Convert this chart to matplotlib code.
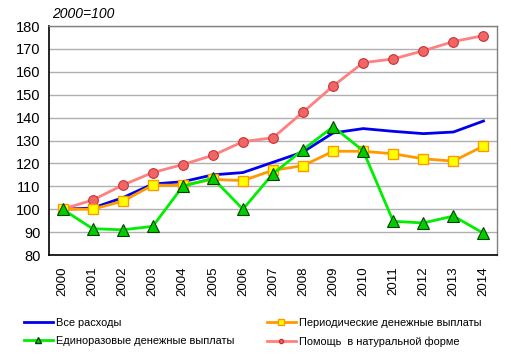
import matplotlib
matplotlib.use("Agg")
import matplotlib.pyplot as plt
from matplotlib.lines import Line2D

plt.rcParams['font.family'] = ['Liberation Sans', 'DejaVu Sans']

years = [str(y) for y in range(2000, 2015)]
all_exp = [100, 100.5, 105, 111, 112, 115, 116, 120.5, 125, 133.3, 135.2, 134, 133, 133.7, 138.5]
periodic = [100, 100, 103.5, 110.5, 110.5, 113, 112.5, 117, 119, 125.3, 125.3, 124.2, 122, 121, 127.6]
lump = [100, 91.5, 91, 92.5, 110, 113.5, 100, 115.5, 126, 136, 125.5, 94.7, 94, 97, 89.5]
inkind = [100, 104, 110.5, 116, 119.5, 123.5, 129.5, 131.2, 142.4, 153.8, 164, 165.6, 169.2, 173.2, 175.8]
labels = ["Все расходы", "Периодические денежные выплаты",
          "Единоразовые денежные выплаты", "Помощь  в натуральной форме"]

fig = plt.figure(figsize=(5.11, 3.56), dpi=100)
ax = fig.add_axes([49/511, 1-255/356, (497-49)/511, (255-26)/356])
x = list(range(len(years)))

ax.plot(x, all_exp, color='#0000ee', lw=2, zorder=3)
ax.plot(x, periodic, color='#ff9900', lw=2, marker='s', ms=7, mfc='#ffff00', mec='#ff9900', mew=1, zorder=4)
ax.plot(x, lump, color='#00ee00', lw=2, marker='^', ms=8, mfc='#00cc00', mec='#004400', mew=0.8, zorder=5)
ax.plot(x, inkind, color='#ff8080', lw=2, marker='o', ms=7, mfc='#ee6666', mec='#cc3333', mew=0.8, zorder=3)

ax.set_xlim(-0.45, len(years) - 0.55)
ax.set_ylim(80, 180)
ax.set_yticks(range(80, 181, 10))
ax.set_xticks(x)
ax.set_xticklabels(years, rotation=90, fontsize=9.5)
ax.tick_params(axis='y', labelsize=10.5, length=0, pad=6)
ax.tick_params(axis='x', length=0, pad=8)
ax.yaxis.grid(True, color='#b0b0b0', lw=1)
ax.set_axisbelow(True)
for s in ['left', 'bottom']:
    ax.spines[s].set_color('black')
    ax.spines[s].set_linewidth(1.2)
for s in ['top', 'right']:
    ax.spines[s].set_color('#808080')
    ax.spines[s].set_linewidth(1)

fig.text(52/511, 1-14/356, "2000=100", fontsize=10, style='italic', va='center', ha='left')

h_all = Line2D([], [], color='#0000ee', lw=2)
h_per = Line2D([], [], color='#ff9900', lw=2, marker='s', ms=4, mfc='#ffff00', mec='#ff9900')
h_lump = Line2D([], [], color='#00ee00', lw=2, marker='^', ms=4, mfc='#00cc00', mec='#004400')
h_ink = Line2D([], [], color='#ff8080', lw=2, marker='o', ms=3, mfc='#ee6666', mec='#cc3333')

common = dict(frameon=False, fontsize=7.9, handlelength=2.6, handletextpad=0.3,
              labelspacing=0.75, borderpad=0, borderaxespad=0, loc='upper left')
leg1 = fig.legend([h_all, h_lump], [labels[0], labels[2]],
                  bbox_to_anchor=(24/511, 1-318/356), **common)
leg2 = fig.legend([h_per, h_ink], [labels[1], labels[3]],
                  bbox_to_anchor=(267/511, 1-318/356), **common)

fig.savefig("out.png", dpi=100)
